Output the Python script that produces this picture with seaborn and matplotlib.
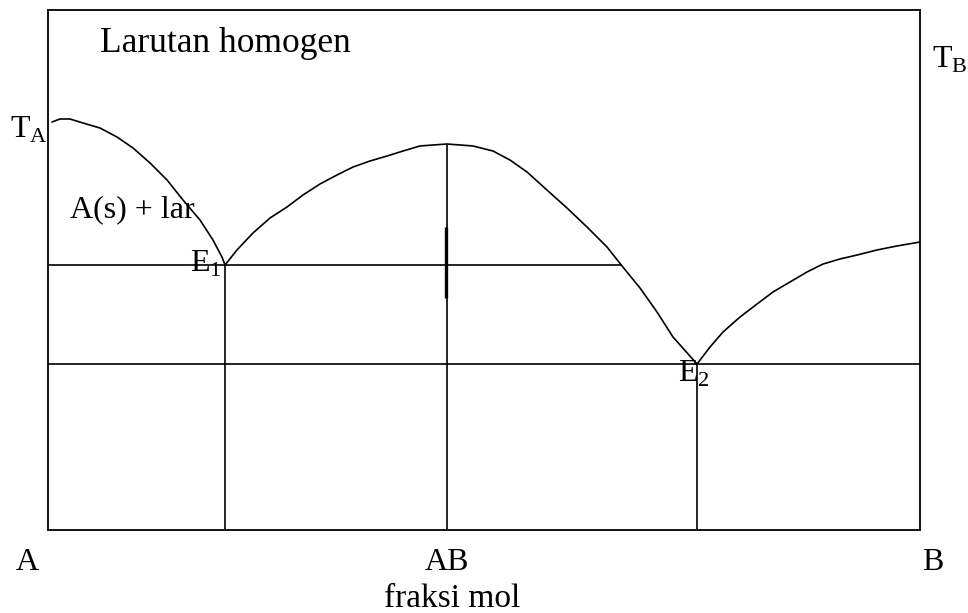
import numpy as np
import pandas as pd
import seaborn as sns
import matplotlib
matplotlib.use("Agg")
import matplotlib.pyplot as plt

# Titik-titik kurva liquidus (fraksi mol B, suhu relatif)
x_kurva_a = [0.0046, 0.0138, 0.0252, 0.0401, 0.0596, 0.0791, 0.0975, 0.1170,
             0.1365, 0.1548, 0.1743, 0.1892, 0.1995, 0.2030]
t_kurva_a = [78.46, 79.04, 79.04, 78.27, 77.31, 75.58, 73.46, 70.58,
             67.31, 63.46, 59.62, 55.77, 52.50, 50.96]

x_kurva_ab = [0.2030, 0.2167, 0.2351, 0.2546, 0.2741, 0.2924, 0.3119, 0.3314,
              0.3498, 0.3693, 0.3888, 0.4071, 0.4266, 0.4415, 0.4576, 0.4725,
              0.4874, 0.5103, 0.5298, 0.5493, 0.5722, 0.5952, 0.6181, 0.6411,
              0.6583, 0.6789, 0.6984, 0.7167, 0.7443]
t_kurva_ab = [50.96, 53.85, 57.12, 60.00, 62.12, 64.42, 66.54, 68.27,
              69.81, 70.96, 71.92, 72.88, 73.85, 74.04, 74.23, 74.04,
              73.85, 72.88, 71.15, 68.85, 65.38, 61.92, 58.27, 54.42,
              50.77, 46.54, 41.92, 37.12, 31.92]

x_kurva_b = [0.7443, 0.7592, 0.7741, 0.7936, 0.8131, 0.8314, 0.8509, 0.8704,
             0.8888, 0.9083, 0.9278, 0.9507, 0.9736, 1.0]
t_kurva_b = [31.92, 35.19, 38.08, 40.96, 43.46, 45.77, 47.69, 49.62,
             51.15, 52.12, 52.88, 53.85, 54.62, 55.38]

# Titik eutektik dan senyawa AB
x_e1, t_e1 = 0.2030, 50.96
x_e2, t_e2 = 0.7443, 31.92
x_ab, t_ab = 0.4576, 74.23
x_garis_e1_akhir = 0.6583   # garis E1 berhenti di kurva AB
t_tanda = [44.6, 58.3]      # tanda pendek tebal di AB

label_bawah = ["A", "AB", "B"]
x_label_bawah = [-0.024, 0.4576, 1.0149]

sns.set_style("white")
plt.rcParams["font.family"] = ["Liberation Serif", "DejaVu Serif"]
plt.rcParams["mathtext.fontset"] = "custom"
plt.rcParams["mathtext.rm"] = "Liberation Serif"
plt.rcParams["text.color"] = "black"

fig = plt.figure(figsize=(9.68, 6.13), dpi=100)
ax = fig.add_axes([48 / 968, 83 / 613, 872 / 968, 520 / 613])

lw = 1.2
for xs, ts in [(x_kurva_a, t_kurva_a), (x_kurva_ab, t_kurva_ab), (x_kurva_b, t_kurva_b)]:
    d = pd.DataFrame({"x": xs, "t": ts})
    sns.lineplot(data=d, x="x", y="t", sort=False, color="black", lw=lw, ax=ax)

ax.hlines(t_e1, 0, x_garis_e1_akhir, color="black", lw=lw)
ax.hlines(t_e2, 0, 1, color="black", lw=lw)
ax.vlines([x_e1, x_ab, x_e2], 0, [t_e1, t_ab, t_e2], color="black", lw=lw)
ax.vlines(x_ab - 0.0012, t_tanda[0], t_tanda[1], color="black", lw=2.4)

ax.set_xlim(0, 1)
ax.set_ylim(0, 100)
ax.set_xticks([])
ax.set_yticks([])
ax.set_xlabel("")
ax.set_ylabel("")
for s in ax.spines.values():
    s.set_color("black")
    s.set_linewidth(1.3)

fs = 23
ax.text(0.0596, 91.9, "Larutan homogen", fontsize=25.5, va="baseline", color="black")
ax.text(0.0252, 60.2, "A(s) + lar", fontsize=fs, va="baseline", color="black")
ax.text(-0.0436, 75.4, r"T$_\mathrm{A}$", fontsize=fs, va="baseline", clip_on=False, color="black")
ax.text(1.0138, 89.0, r"T$_\mathrm{B}$", fontsize=fs, va="baseline", clip_on=False, color="black")
ax.text(0.1628, 49.6, r"E$_\mathrm{1}$", fontsize=fs, va="baseline", color="black")
ax.text(0.7225, 28.46, r"E$_\mathrm{2}$", fontsize=fs, va="baseline", color="black")
for lab, xl in zip(label_bawah, x_label_bawah):
    ax.text(xl, -7.7, lab, fontsize=fs, ha="center", va="baseline", clip_on=False, color="black")
ax.text(0.4633, -14.8, "fraksi mol", fontsize=24, ha="center", va="baseline", clip_on=False,
        color="black")

fig.savefig("out.png", dpi=100)
